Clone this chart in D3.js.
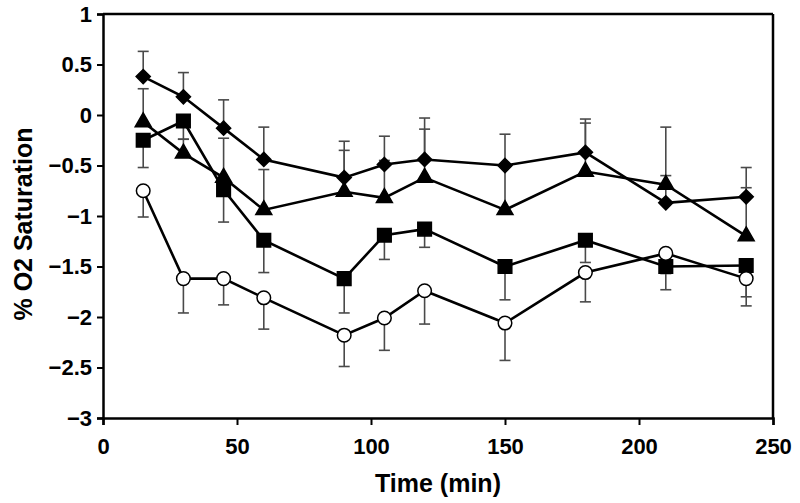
<!DOCTYPE html>
<html>
<head>
<meta charset="utf-8">
<script src="https://cdn.jsdelivr.net/npm/d3@7"></script>
<style>
  html, body { margin: 0; padding: 0; background: #fff; }
  svg { display: block; }
  text { font-family: "Liberation Sans", Arial, Helvetica, sans-serif; font-weight: bold; fill: #000; }
</style>
</head>
<body>
<svg id="chart" width="800" height="503"></svg>
<script>
const times = [15, 30, 45, 60, 90, 105, 120, 150, 180, 210, 240];

const diamondVals = [0.38, 0.18, -0.13, -0.44, -0.62, -0.49, -0.44, -0.50, -0.37, -0.87, -0.81];
const diamondErr  = [0.25, 0.24, 0.28, 0.32, 0.36, 0.28, 0.41, 0.31, 0.33, 0.27, 0.29];

const triangleVals = [-0.07, -0.38, -0.62, -0.94, -0.76, -0.82, -0.62, -0.94, -0.56, -0.69, -1.20];
const triangleErr  = [0.33, 0.14, 0.39, 0.40, 0.41, 0.37, 0.48, 0.44, 0.48, 0.57, 0.48];

const squareVals = [-0.25, -0.06, -0.74, -1.24, -1.62, -1.19, -1.13, -1.50, -1.24, -1.50, -1.49];
const squareErr  = [0.27, 0.18, 0.32, 0.32, 0.34, 0.24, 0.18, 0.33, 0.22, 0.23, 0.31];

const circleVals = [-0.75, -1.62, -1.62, -1.81, -2.18, -2.01, -1.74, -2.06, -1.56, -1.37, -1.62];
const circleErr  = [0.26, 0.34, 0.26, 0.31, 0.31, 0.32, 0.33, 0.37, 0.29, 0.20, 0.27];

const xTicks = [0, 50, 100, 150, 200, 250];
const yTicks = [1, 0.5, 0, -0.5, -1, -1.5, -2, -2.5, -3];
const xTitle = "Time (min)";
const yTitle = "% O2 Saturation";

const series = [
  { name: "diamond", vals: diamondVals, err: diamondErr, dir: 1 },
  { name: "triangle", vals: triangleVals, err: triangleErr, dir: 1 },
  { name: "square", vals: squareVals, err: squareErr, dir: -1 },
  { name: "circle", vals: circleVals, err: circleErr, dir: -1 }
];

const svg = d3.select("#chart");
const x = d3.scaleLinear().domain([0, 250]).range([103, 773]);
const y = d3.scaleLinear().domain([-3, 1]).range([418, 14]);

const fmt = v => (v < 0 ? "\u2212" : "") + String(Math.abs(v));

// frame top & right
svg.append("line").attr("x1", x(0)).attr("x2", x(250)).attr("y1", y(1)).attr("y2", y(1))
  .attr("stroke", "#000").attr("stroke-width", 2.5);
svg.append("line").attr("x1", x(250)).attr("x2", x(250)).attr("y1", y(1)).attr("y2", y(-3))
  .attr("stroke", "#000").attr("stroke-width", 2.5);

// axes
const xAxis = svg.append("g").attr("transform", `translate(0,${y(-3)})`)
  .call(d3.axisBottom(x).tickValues(xTicks).tickSize(7).tickPadding(13).tickFormat(d => String(d)));
const yAxis = svg.append("g").attr("transform", `translate(${x(0)},0)`)
  .call(d3.axisLeft(y).tickValues(yTicks).tickSize(6).tickPadding(5).tickFormat(fmt));
[xAxis, yAxis].forEach(g => {
  g.select(".domain").attr("stroke", "#000").attr("stroke-width", 2.5);
  g.selectAll(".tick line").attr("stroke", "#000").attr("stroke-width", 2);
  g.selectAll(".tick text").style("font-size", "22px").style("font-weight", "bold")
    .style("font-family", "'Liberation Sans', Arial, sans-serif").attr("fill", "#000");
});

// titles
svg.append("text").attr("x", (x(0) + x(250)) / 2).attr("y", 492)
  .attr("text-anchor", "middle").style("font-size", "25px").text(xTitle);
svg.append("text").attr("transform", `translate(32,224) rotate(-90)`)
  .attr("text-anchor", "middle").style("font-size", "25px").text(yTitle);

// error bars
const capW = 5.5;
series.forEach(s => {
  const g = svg.append("g").attr("class", "err-" + s.name)
    .attr("stroke", "#4a4a4a").attr("stroke-width", 1.6).attr("fill", "none");
  times.forEach((t, i) => {
    const end = s.vals[i] + s.dir * s.err[i];
    g.append("line").attr("x1", x(t)).attr("x2", x(t)).attr("y1", y(s.vals[i])).attr("y2", y(end));
    g.append("line").attr("x1", x(t) - capW).attr("x2", x(t) + capW).attr("y1", y(end)).attr("y2", y(end));
  });
});

// lines
const lineGen = d3.line().x(d => x(d[0])).y(d => y(d[1]));
series.forEach(s => {
  svg.append("path").datum(times.map((t, i) => [t, s.vals[i]]))
    .attr("d", lineGen).attr("fill", "none").attr("stroke", "#000").attr("stroke-width", 2.6);
});

// markers
const diamondSym = {
  draw(ctx, size) {
    const r = Math.sqrt(size / 2);
    ctx.moveTo(0, -r); ctx.lineTo(r, 0); ctx.lineTo(0, r); ctx.lineTo(-r, 0); ctx.closePath();
  }
};
const symDefs = {
  diamond: { type: diamondSym, size: 100, fill: "#000" },
  triangle: { type: d3.symbolTriangle, size: 110, fill: "#000" },
  square: { type: d3.symbolSquare, size: 185, fill: "#000" },
  circle: { type: d3.symbolCircle, size: 145, fill: "#fff" }
};
series.forEach(s => {
  const def = symDefs[s.name];
  svg.append("g").selectAll("path").data(times.map((t, i) => [t, s.vals[i]])).join("path")
    .attr("transform", d => `translate(${x(d[0])},${y(d[1])})`)
    .attr("d", d3.symbol().type(def.type).size(def.size))
    .attr("fill", def.fill).attr("stroke", "#000").attr("stroke-width", 1.5);
});
</script>
</body>
</html>
